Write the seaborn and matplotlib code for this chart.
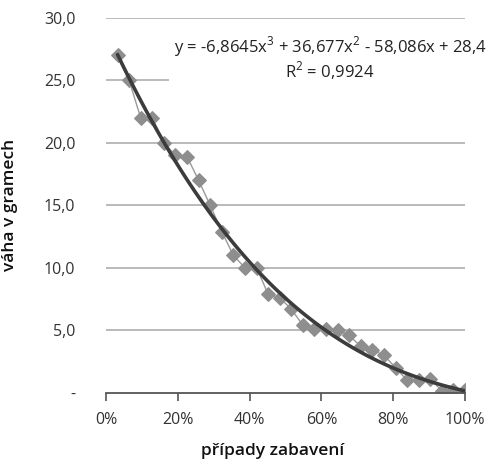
import numpy as np
import pandas as pd
import matplotlib
matplotlib.use("Agg")
import matplotlib.pyplot as plt
import seaborn as sns

# data (x as share of cases, y as weight in grams)
share = [i / 31 for i in range(1, 32)]
weight = [27.0, 25.0, 22.0, 22.0, 20.0, 19.0, 18.9, 17.0, 15.0, 12.9,
          11.0, 10.0, 10.0, 7.9, 7.6, 6.7, 5.4, 5.1, 5.1, 5.0,
          4.6, 3.7, 3.4, 3.0, 2.0, 1.0, 1.0, 1.1, 0.15, 0.2, 0.2]
y_ticks = [0, 5, 10, 15, 20, 25, 30]
y_labels = ["-", "5,0", "10,0", "15,0", "20,0", "25,0", "30,0"]
x_ticks = [0, 0.2, 0.4, 0.6, 0.8, 1.0]
x_labels = ["0%", "20%", "40%", "60%", "80%", "100%"]
equation = "y = -6,8645x$^3$ + 36,677x$^2$ - 58,086x + 28,4\nR$^2$ = 0,9924"

df = pd.DataFrame({"share": share, "weight": weight})

sns.set_theme(style="white")
plt.rcParams["font.family"] = ["Open Sans", "DejaVu Sans"]
plt.rcParams["mathtext.fontset"] = "custom"
plt.rcParams["mathtext.rm"] = "Open Sans"

fig = plt.figure(figsize=(4.92, 4.62), dpi=100)
ax = fig.add_axes([0.2154, 0.150, 0.7297, 0.811])

for v in y_ticks[1:]:
    ax.axhline(v, color="#b4b4b4", lw=1.3, zorder=0)

sns.lineplot(data=df, x="share", y="weight", ax=ax, color="#9a9a9a", lw=1.0,
             marker="D", markersize=7, markerfacecolor="#8e8e8e",
             markeredgecolor="#8e8e8e", zorder=2)
sns.regplot(data=df, x="share", y="weight", ax=ax, order=3, ci=None,
            scatter=False, truncate=True,
            line_kws=dict(color="#3c3c3c", lw=2.6, zorder=3))

ax.set_xlim(0, 1.0)
ax.set_ylim(0, 30)
ax.set_xticks(x_ticks)
ax.set_xticklabels(x_labels)
ax.set_yticks(y_ticks)
ax.set_yticklabels(y_labels)
ax.tick_params(axis="x", bottom=True, length=6, width=1.2, color="#555555",
               labelsize=11.5, labelcolor="#333333", pad=8)
ax.tick_params(axis="y", left=False, labelsize=11.5, labelcolor="#333333", pad=16)
for s in ["top", "right", "left"]:
    ax.spines[s].set_visible(False)
ax.spines["bottom"].set_color("#555555")
ax.spines["bottom"].set_linewidth(1.3)

ax.set_xlabel("případy zabavení", fontsize=12.5, fontweight="semibold",
              color="#111111")
ax.set_ylabel("váha v gramech", fontsize=12.5, fontweight="semibold",
              color="#111111")
ax.xaxis.set_label_coords(0.465, -0.135)
ax.yaxis.set_label_coords(-0.245, 0.5)

ax.text(0.624, 26.8, equation, fontsize=12, color="#222222", ha="center",
        va="center", linespacing=1.05, zorder=4,
        bbox=dict(facecolor="white", edgecolor="none", pad=3))

fig.savefig("out.png", dpi=100)
